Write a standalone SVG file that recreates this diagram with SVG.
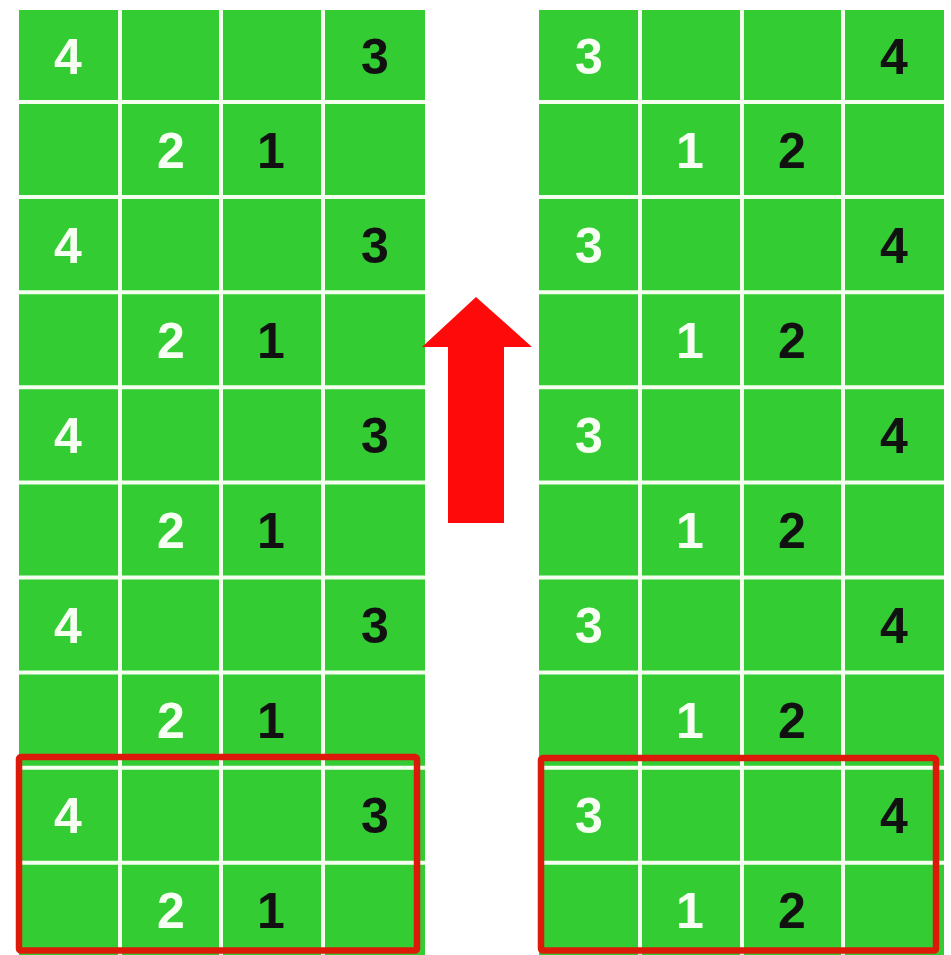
<svg xmlns="http://www.w3.org/2000/svg" width="951" height="955" viewBox="0 0 951 955">
<style>
.bg{fill:#33CC33}
.gl{stroke:#F4FFF0;stroke-width:4;fill:none}
.n{font-family:"Liberation Sans",Arial,sans-serif;font-weight:bold;font-size:50px;text-anchor:middle}
.w{fill:#F6FFF2}
.k{fill:#111111}
.hl{fill:none;stroke:#DC1A0A;stroke-width:6.5}
</style>
<rect x="0" y="0" width="951" height="955" fill="#FFFFFF"/>
<g id="left-grid">
<rect class="bg" x="19" y="10" width="406" height="950"/>
<path class="gl" d="M120 10V955M221 10V955M323 10V955M19 102H425M19 197.1H425M19 292.2H425M19 387.3H425M19 482.4H425M19 577.5H425M19 672.6H425M19 767.7H425M19 862.8H425"/>
<g id="left-labels">
<text class="n w" x="68" y="74">4</text><text class="n k" x="375" y="74">3</text>
<text class="n w" x="171" y="168">2</text><text class="n k" x="271" y="168">1</text>
<text class="n w" x="68" y="263">4</text><text class="n k" x="375" y="263">3</text>
<text class="n w" x="171" y="358">2</text><text class="n k" x="271" y="358">1</text>
<text class="n w" x="68" y="453">4</text><text class="n k" x="375" y="453">3</text>
<text class="n w" x="171" y="548">2</text><text class="n k" x="271" y="548">1</text>
<text class="n w" x="68" y="643">4</text><text class="n k" x="375" y="643">3</text>
<text class="n w" x="171" y="738">2</text><text class="n k" x="271" y="738">1</text>
<text class="n w" x="68" y="833">4</text><text class="n k" x="375" y="833">3</text>
<text class="n w" x="171" y="928">2</text><text class="n k" x="271" y="928">1</text>
</g>
</g>
<g id="right-grid">
<rect class="bg" x="539" y="10" width="405" height="950"/>
<path class="gl" d="M640 10V955M742 10V955M843 10V955M539 102H944M539 197.1H944M539 292.2H944M539 387.3H944M539 482.4H944M539 577.5H944M539 672.6H944M539 767.7H944M539 862.8H944"/>
<g id="right-labels">
<text class="n w" x="589" y="74">3</text><text class="n k" x="894" y="74">4</text>
<text class="n w" x="690" y="168">1</text><text class="n k" x="792" y="168">2</text>
<text class="n w" x="589" y="263">3</text><text class="n k" x="894" y="263">4</text>
<text class="n w" x="690" y="358">1</text><text class="n k" x="792" y="358">2</text>
<text class="n w" x="589" y="453">3</text><text class="n k" x="894" y="453">4</text>
<text class="n w" x="690" y="548">1</text><text class="n k" x="792" y="548">2</text>
<text class="n w" x="589" y="643">3</text><text class="n k" x="894" y="643">4</text>
<text class="n w" x="690" y="738">1</text><text class="n k" x="792" y="738">2</text>
<text class="n w" x="589" y="833">3</text><text class="n k" x="894" y="833">4</text>
<text class="n w" x="690" y="928">1</text><text class="n k" x="792" y="928">2</text>
</g>
</g>
<g id="left-highlight"><rect class="hl" x="19" y="757" width="398" height="193.5" rx="2"/></g>
<g id="right-highlight"><rect class="hl" x="541" y="758" width="395" height="192.5" rx="2"/></g>
<g id="connectors">
<polygon id="arrow" points="476,297 532,347 504,347 504,523 448,523 448,347 422,347" fill="#FF0A0A"/>
</g>
</svg>
